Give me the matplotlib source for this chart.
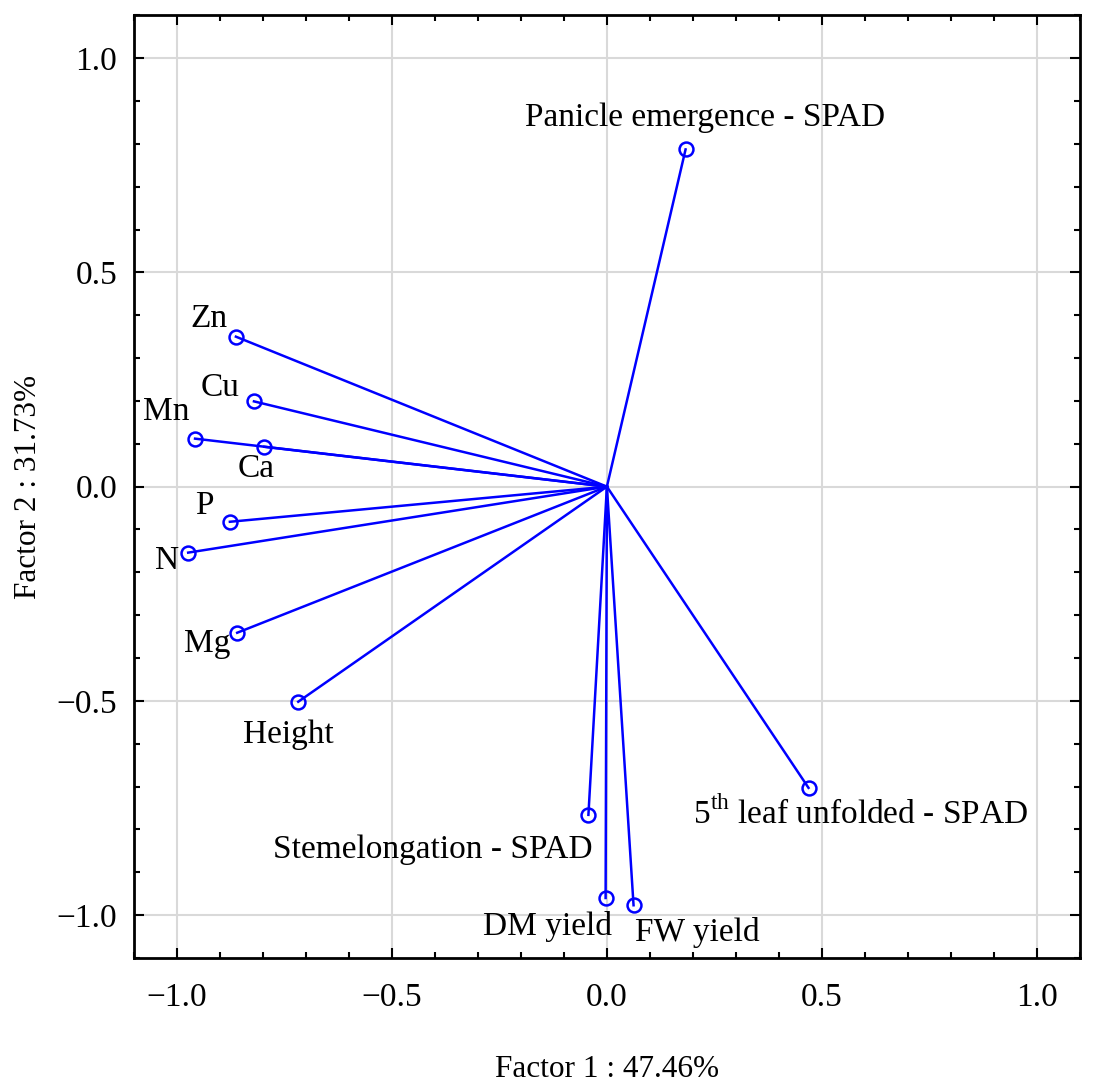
import matplotlib
matplotlib.use("Agg")
import matplotlib.pyplot as plt
from matplotlib.ticker import MultipleLocator

# loadings on the first two factors
variables = ["Panicle emergence - SPAD", "Zn", "Cu", "Mn", "Ca", "P", "N", "Mg",
             "Height", "5$^{\\rm th}$ leaf unfolded - SPAD", "Stemelongation - SPAD",
             "DM yield", "FW yield"]
factor1 = [0.183, -0.863, -0.821, -0.958, -0.797, -0.877, -0.974, -0.860,
           -0.718, 0.469, -0.043, -0.003, 0.062]
factor2 = [0.787, 0.350, 0.199, 0.112, 0.093, -0.082, -0.154, -0.341,
           -0.502, -0.703, -0.766, -0.960, -0.977]

# label placement (pixel offsets from the point, alignment)
label_pos = [(19, 32, "center"), (-27, 18, "center"), (-34, 14, "center"),
             (-29, 27, "center"), (-8, -22, "center"), (-26, 16, "center"),
             (-21, -8, "center"), (-30, -11, "center"), (-10, -33, "center"),
             (52, -26, "center"), (4, -35, "right"), (6, -29, "right"),
             (1, -27, "left")]

plt.rcParams['font.family'] = ['Liberation Serif', 'DejaVu Serif']
plt.rcParams['mathtext.fontset'] = 'custom'
plt.rcParams['mathtext.rm'] = 'Liberation Serif'

fig = plt.figure(figsize=(10.94, 10.86), dpi=100)
ax = fig.add_axes([0.1225, 0.1179, 0.8645, 0.868])

for x, y in zip(factor1, factor2):
    ax.plot([0, x], [0, y], color='#0000ff', lw=1.8, zorder=3)
ax.plot(factor1, factor2, 'o', ms=10, mfc='none', mec='#0000ff', mew=1.8, zorder=4)

for name, x, y, (dx, dy, ha) in zip(variables, factor1, factor2, label_pos):
    ax.annotate(name, (x, y), xytext=(dx, dy), textcoords='offset pixels',
                ha=ha, va='center', fontsize=24, color='black', zorder=5)

ax.set_xlim(-1.1, 1.1)
ax.set_ylim(-1.1, 1.1)
ax.xaxis.set_major_locator(MultipleLocator(0.5))
ax.yaxis.set_major_locator(MultipleLocator(0.5))
ax.xaxis.set_minor_locator(MultipleLocator(0.1))
ax.yaxis.set_minor_locator(MultipleLocator(0.1))
ax.tick_params(which='both', direction='in', top=True, right=True, width=1.5)
ax.tick_params(which='major', length=7, labelsize=24)
ax.tick_params(which='minor', length=4)
ax.tick_params(axis='x', which='major', pad=18)
ax.tick_params(axis='y', which='major', pad=12)
ax.xaxis.set_major_formatter(plt.FuncFormatter(lambda v, p: f"{v:.1f}".replace("-", "\u2212")))
ax.yaxis.set_major_formatter(plt.FuncFormatter(lambda v, p: f"{v:.1f}".replace("-", "\u2212")))
ax.grid(True, which='major', color='#d9d9d9', lw=1.5, zorder=0)
for s in ax.spines.values():
    s.set_linewidth(2)

ax.set_xlabel("Factor 1 : 47.46%", fontsize=22.5, labelpad=30)
ax.set_ylabel("Factor 2 : 31.73%", fontsize=22.5, labelpad=10)

fig.savefig("out.png", dpi=100)
